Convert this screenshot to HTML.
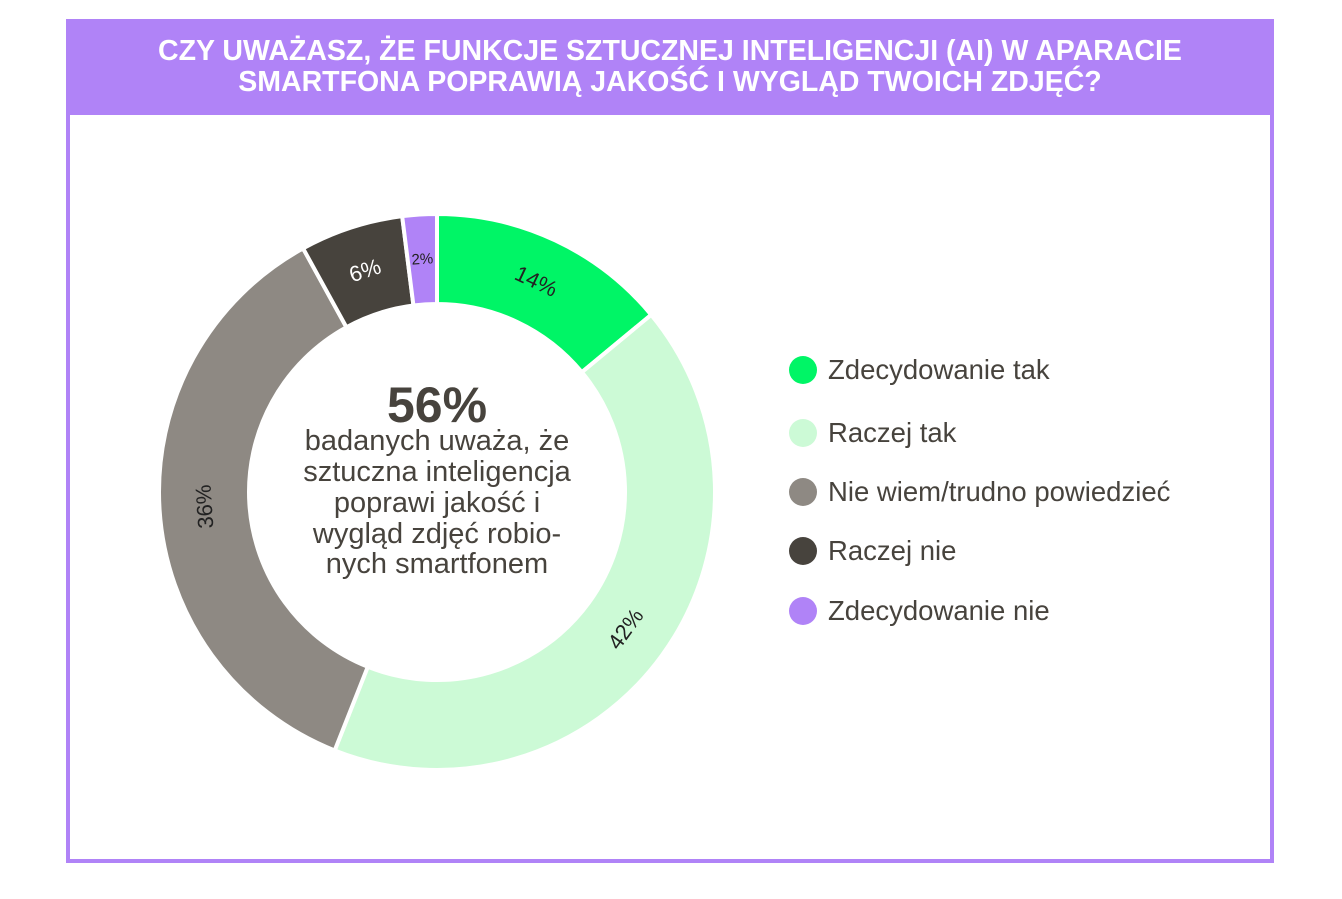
<!DOCTYPE html>
<html><head><meta charset="utf-8">
<style>
body{margin:0;width:1342px;height:899px;background:#fff;font-family:"Liberation Sans","DejaVu Sans",sans-serif;overflow:hidden;position:relative}
#frame{position:absolute;left:66px;top:19px;width:1200px;height:840px;border:4px solid #b083f7;border-top:none}
#header{position:absolute;left:66px;top:19px;width:1208px;height:96px;background:#b083f7;color:#fff;text-align:center;font-size:28.5px;line-height:31px;font-weight:bold;display:flex;align-items:center;justify-content:center}
.leg{position:absolute;left:789px;font-size:27.5px;color:#47433d;display:flex;align-items:center}
.leg span.d{width:28px;height:28px;border-radius:50%;margin-right:11px;display:inline-block}
</style></head><body>
<div id="frame"></div>
<div id="header">CZY UWAŻASZ, ŻE FUNKCJE SZTUCZNEJ INTELIGENCJI (AI) W APARACIE<br>SMARTFONA POPRAWIĄ JAKOŚĆ I WYGLĄD TWOICH ZDJĘĆ?</div>
<svg id="chart" width="1342" height="899" style="position:absolute;left:0;top:0"></svg>
<div class="leg" style="top:354px"><span class="d" style="background:#00f566"></span>Zdecydowanie tak</div>
<div class="leg" style="top:417px"><span class="d" style="background:#ccfad6"></span>Raczej tak</div>
<div class="leg" style="top:476px"><span class="d" style="background:#8e8983"></span>Nie wiem/trudno powiedzieć</div>
<div class="leg" style="top:535px"><span class="d" style="background:#47433d"></span>Raczej nie</div>
<div class="leg" style="top:595px"><span class="d" style="background:#b083f7"></span>Zdecydowanie nie</div>
<script>
const categories=["Zdecydowanie tak","Raczej tak","Nie wiem/trudno powiedzieć","Raczej nie","Zdecydowanie nie"];
const values=[14,42,36,6,2];
const labels=["14%","42%","36%","6%","2%"];
const colors=["#00f566","#ccfad6","#8e8983","#47433d","#b083f7"];
const labelColors=["#222","#222","#222","#fff","#222"];
const cx=437,cy=492,R=278,r=188;
const svg=document.getElementById('chart');
const NS='http://www.w3.org/2000/svg';
const total=values.reduce((a,b)=>a+b,0);
function pt(a,rad){return [cx+rad*Math.sin(a),cy-rad*Math.cos(a)];}
let acc=0;
values.forEach((v,i)=>{
 const a0=acc/total*2*Math.PI,a1=(acc+v)/total*2*Math.PI;acc+=v;
 const large=(a1-a0)>Math.PI?1:0;
 const p0=pt(a0,R),p1=pt(a1,R),q1=pt(a1,r),q0=pt(a0,r);
 const p=document.createElementNS(NS,'path');
 p.setAttribute('d',`M${p0[0]},${p0[1]}A${R},${R} 0 ${large} 1 ${p1[0]},${p1[1]}L${q1[0]},${q1[1]}A${r},${r} 0 ${large} 0 ${q0[0]},${q0[1]}Z`);
 p.setAttribute('fill',colors[i]);p.setAttribute('stroke','#fff');p.setAttribute('stroke-width','4');
 
 
 svg.appendChild(p);
 const am=(a0+a1)/2,lp=pt(am,(R+r)/2);
 let deg=am*180/Math.PI;if(deg>180)deg-=360;else if(deg>90)deg-=180;
 const t=document.createElementNS(NS,'text');
 t.setAttribute('x',lp[0]);t.setAttribute('y',lp[1]);
 t.setAttribute('text-anchor','middle');t.setAttribute('dominant-baseline','central');
 t.setAttribute('font-size',v<4?'15':'22');t.setAttribute('fill',labelColors[i]);
 t.setAttribute('font-family','Liberation Sans, sans-serif');
 t.setAttribute('transform',`rotate(${deg} ${lp[0]} ${lp[1]})`);
 t.textContent=labels[i];
 
 
 svg.appendChild(t);
});
const center=[["56%",422,50,"bold"],["badanych uważa, że",450,29,"normal"],["sztuczna inteligencja",481,29,"normal"],["poprawi jakość i",512,29,"normal"],["wygląd zdjęć robio-",543,29,"normal"],["nych smartfonem",573,29,"normal"]];
center.forEach((c,i)=>{
 const t=document.createElementNS(NS,'text');
 t.setAttribute('x',437);t.setAttribute('y',c[1]);t.setAttribute('text-anchor','middle');
 t.setAttribute('font-size',c[2]);t.setAttribute('font-weight',c[3]);t.setAttribute('fill','#47433d');
 t.setAttribute('font-family','Liberation Sans, sans-serif');
 t.textContent=c[0];
 
 
 svg.appendChild(t);
});
</script>
</body></html>
